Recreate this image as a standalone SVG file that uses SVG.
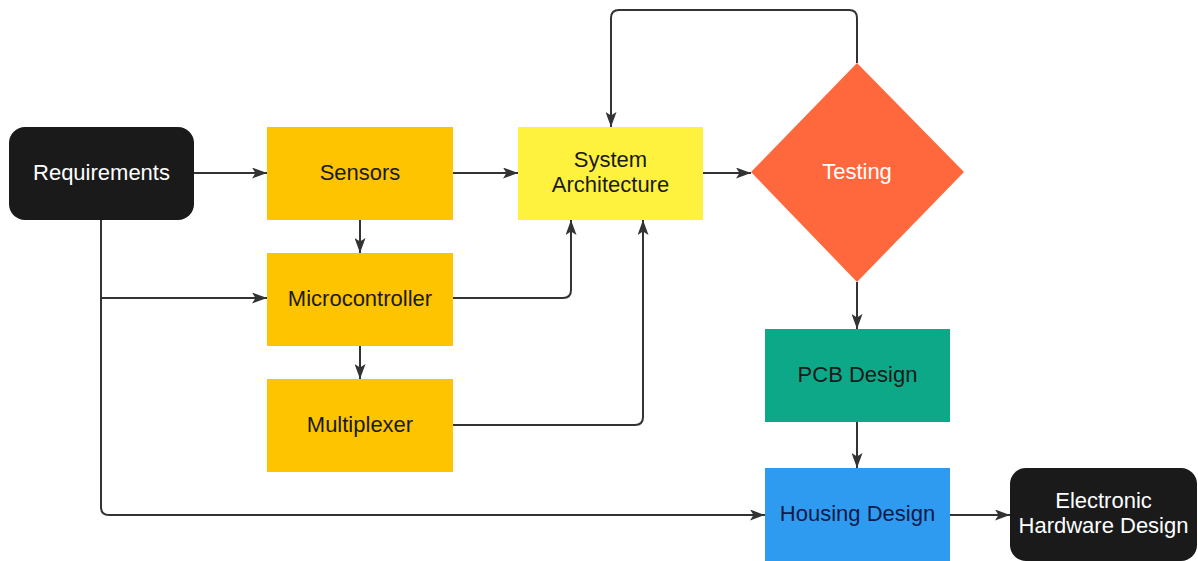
<svg xmlns="http://www.w3.org/2000/svg" width="1198" height="561" viewBox="0 0 1198 561">
  <defs>
    <marker id="arrow" viewBox="0 0 15 11" refX="15" refY="5.5" markerWidth="15" markerHeight="11" markerUnits="userSpaceOnUse" orient="auto">
      <path d="M0,0 L15,5.5 L0,11 L3.5,5.5 Z" fill="#333333"/>
    </marker>
    <style>
      text { font-family: "Liberation Sans", Arial, sans-serif; font-size: 22px; text-anchor: middle; }
      .dark { fill: #1a1a1a; }
      .light { fill: #ffffff; }
      .navy { fill: #0d1b4a; }
      .term { fill: #1a1a1a; }
      .amber { fill: #ffc400; }
      .yellow { fill: #fff23f; }
      .edge { fill: none; stroke: #333333; stroke-width: 2; marker-end: url(#arrow); }
    </style>
  </defs>

  <g id="connectors">
    <path class="edge" d="M194,173 H267"/>
    <path class="edge" d="M453,173 H518"/>
    <path class="edge" d="M703,173 H751"/>
    <path class="edge" d="M857,63 V18 Q857,10 849,10 H619 Q611,10 611,18 V127"/>
    <path class="edge" d="M360,220 V253"/>
    <path class="edge" d="M360,346 V379"/>
    <path class="edge" d="M101,220 V298 H267"/>
    <path class="edge" d="M101,298 V507 Q101,515 109,515 H765"/>
    <path class="edge" d="M453,298 H563 Q571,298 571,290 V220"/>
    <path class="edge" d="M453,425 H635 Q643,425 643,417 V220"/>
    <path class="edge" d="M857,282 V329"/>
    <path class="edge" d="M857,422 V468"/>
    <path class="edge" d="M950,515 H1010"/>
  </g>

  <g id="requirements">
    <rect class="term" x="9" y="127" width="185" height="93" rx="16"/>
    <text class="light" x="101.5" y="180">Requirements</text>
  </g>

  <g id="sensors">
    <rect class="amber" x="267" y="127" width="186" height="93"/>
    <text class="dark" x="360" y="180">Sensors</text>
  </g>

  <g id="microcontroller">
    <rect class="amber" x="267" y="253" width="186" height="93"/>
    <text class="dark" x="360" y="306">Microcontroller</text>
  </g>

  <g id="multiplexer">
    <rect class="amber" x="267" y="379" width="186" height="93"/>
    <text class="dark" x="360" y="432">Multiplexer</text>
  </g>

  <g id="system-architecture">
    <rect class="yellow" x="518" y="127" width="185" height="93"/>
    <text class="dark" x="610.5" y="167">System</text>
    <text class="dark" x="610.5" y="192">Architecture</text>
  </g>

  <g id="testing">
    <polygon points="857,63 964,172 857,282 751,172" fill="#ff683c"/>
    <text class="light" x="857" y="179">Testing</text>
  </g>

  <g id="pcb-design">
    <rect x="765" y="329" width="185" height="93" fill="#0da888"/>
    <text class="dark" x="857.5" y="382">PCB Design</text>
  </g>

  <g id="housing-design">
    <rect x="765" y="468" width="185" height="93" fill="#2f9bf0"/>
    <text class="navy" x="857.5" y="521">Housing Design</text>
  </g>

  <g id="electronic-hardware-design">
    <rect class="term" x="1010" y="468" width="187" height="93" rx="16"/>
    <text class="light" x="1103.5" y="508">Electronic</text>
    <text class="light" x="1103.5" y="533">Hardware Design</text>
  </g>
</svg>
